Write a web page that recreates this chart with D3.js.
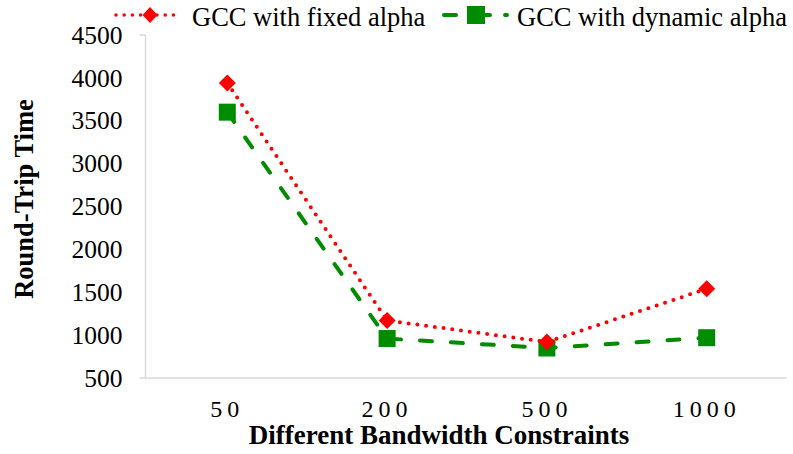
<!DOCTYPE html>
<html>
<head>
<meta charset="utf-8">
<script src="https://cdn.jsdelivr.net/npm/d3@7"></script>
<style>
  html, body { margin: 0; padding: 0; background: #fff; }
  svg { display: block; }
  svg text { font-family: 'Liberation Serif', 'Times New Roman', serif; }
</style>
</head>
<body>
<svg id="chart" width="793" height="454"></svg>
<script>
// Bandwidth constraints on the x axis
const categories = ["50", "200", "500", "1000"];
// Round-trip time per constraint for each GCC variant
const fixedAlpha = [3940, 1170, 920, 1540];
const dynamicAlpha = [3600, 960, 850, 970];
const yTicks = [500, 1000, 1500, 2000, 2500, 3000, 3500, 4000, 4500];
const seriesNames = ["GCC with fixed alpha", "GCC with dynamic alpha"];

const svg = d3.select("#chart");
const plot = { axisX: 145.5, left: 147.4, right: 786.6, top: 35, bottom: 378 };

const x = d3.scalePoint().domain(categories).range([plot.left, plot.right]).padding(0.5);
const y = d3.scaleLinear().domain([500, 4500]).range([plot.bottom, plot.top]);

const axisColor = "#d9d9d9";

// Y axis: light rule with a short stub at the top, labels to the left
svg.append("line").attr("x1", plot.axisX).attr("x2", plot.axisX)
  .attr("y1", plot.top).attr("y2", plot.bottom)
  .attr("stroke", axisColor).attr("stroke-width", 1.5);
svg.append("line").attr("x1", plot.axisX - 6).attr("x2", plot.axisX)
  .attr("y1", plot.top).attr("y2", plot.top)
  .attr("stroke", axisColor).attr("stroke-width", 1.5);
svg.append("g").selectAll("text").data(yTicks).enter().append("text")
  .attr("x", plot.axisX - 23).attr("y", d => y(d)).attr("dy", "0.34em")
  .attr("text-anchor", "end").attr("font-size", 25.5).attr("fill", "#000")
  .text(d3.format("d"));

// X axis: baseline plus spaced category labels
svg.append("line").attr("x1", plot.axisX - 6).attr("x2", plot.right)
  .attr("y1", plot.bottom).attr("y2", plot.bottom)
  .attr("stroke", axisColor).attr("stroke-width", 1.5);
svg.append("g").selectAll("text").data(categories).enter().append("text")
  .attr("x", d => x(d)).attr("y", plot.bottom + 39)
  .attr("text-anchor", "middle").attr("font-size", 24).attr("fill", "#000")
  .attr("letter-spacing", "5px")
  .text(d => d);

// Axis titles
svg.append("text").attr("x", 439).attr("y", 444)
  .attr("text-anchor", "middle").attr("font-size", 27).attr("font-weight", "bold")
  .text("Different Bandwidth Constraints");
svg.append("text")
  .attr("transform", "translate(32.5,199) rotate(-90)")
  .attr("text-anchor", "middle").attr("font-size", 26.5).attr("font-weight", "bold")
  .text("Round-Trip Time");

const line = d3.line()
  .x((d, i) => x(categories[i])).y(d => y(d));

const red = "#ff0000", green = "#008c00";

// Dynamic alpha series (dashed green, square markers)
svg.append("path").datum(dynamicAlpha).attr("d", line)
  .attr("fill", "none").attr("stroke", green).attr("stroke-width", 4)
  .attr("stroke-dasharray", "12 19").attr("stroke-linecap", "round");
svg.selectAll(".sq").data(dynamicAlpha).enter().append("rect")
  .attr("x", (d, i) => x(categories[i]) - 8.5).attr("y", d => y(d) - 8.5)
  .attr("width", 17).attr("height", 17).attr("fill", green);

// Fixed alpha series (dotted red, diamond markers)
svg.append("path").datum(fixedAlpha).attr("d", line)
  .attr("fill", "none").attr("stroke", red).attr("stroke-width", 4)
  .attr("stroke-dasharray", "0 8.8").attr("stroke-linecap", "round");
const diamond = "M0,-8.5L8.5,0L0,8.5L-8.5,0Z";
svg.selectAll(".dm").data(fixedAlpha).enter().append("path")
  .attr("d", diamond)
  .attr("transform", (d, i) => `translate(${x(categories[i])},${y(d)})`)
  .attr("fill", red);

// Legend
const legend = svg.append("g").attr("transform", "translate(0,15)");
legend.append("line").attr("x1", 116).attr("x2", 180).attr("y1", 0).attr("y2", 0)
  .attr("stroke", red).attr("stroke-width", 3.5).attr("stroke-dasharray", "0 8.2")
  .attr("stroke-linecap", "round");
legend.append("path").attr("d", "M0,-8L7.5,0L0,8L-7.5,0Z")
  .attr("transform", "translate(150,0)").attr("fill", red);
legend.append("text").attr("x", 192).attr("y", 11).attr("font-size", 26.5)
  .text(seriesNames[0]);

legend.append("line").attr("x1", 444).attr("x2", 508).attr("y1", 0).attr("y2", 0)
  .attr("stroke", green).attr("stroke-width", 4).attr("stroke-dasharray", "12 16 18 15 2 50")
  .attr("stroke-linecap", "round");
legend.append("rect").attr("x", 467).attr("y", -9).attr("width", 18).attr("height", 18).attr("fill", green);
legend.append("text").attr("x", 517).attr("y", 11).attr("font-size", 26.5)
  .text(seriesNames[1]);
</script>
</body>
</html>
